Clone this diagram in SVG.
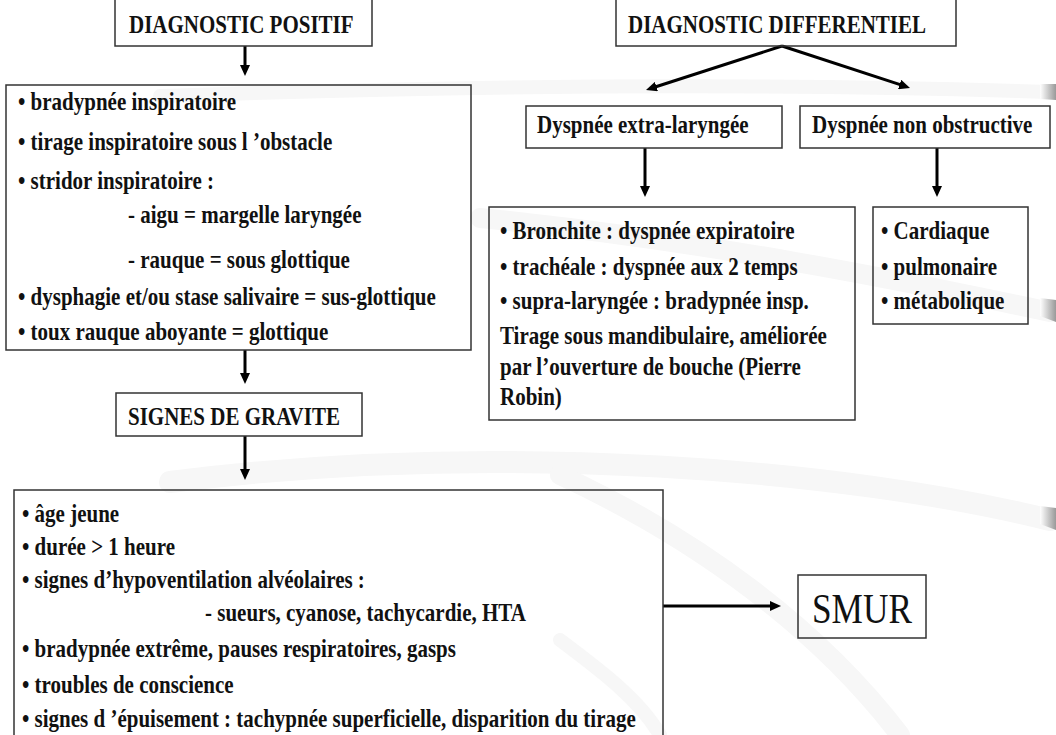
<svg xmlns="http://www.w3.org/2000/svg" width="1056" height="735" viewBox="0 0 1056 735">
<style>
.bg{fill:#ffffff}
.sw{fill:none;stroke:#f7f7f7;stroke-linecap:round}
.box{fill:none;stroke:#333;stroke-width:1.5}
.t{font-family:"Liberation Serif","Times New Roman",serif;font-weight:bold;font-size:25px;fill:#111}
.big{font-family:"Liberation Serif","Times New Roman",serif;font-size:43px;fill:#111}
.c{fill:none;stroke:#000;stroke-width:3}
</style>
<defs>
<marker id="ah" markerUnits="userSpaceOnUse" viewBox="0 0 11 10" refX="3" refY="5" markerWidth="11" markerHeight="10" orient="auto">
<path d="M0,0 L11,5 L0,10 Z" fill="#000"/>
</marker>
<linearGradient id="tip" x1="0" y1="0" x2="1" y2="0">
<stop offset="0" stop-color="#ffffff"/>
<stop offset="1" stop-color="#999999"/>
</linearGradient>
</defs>
<rect class="bg" x="0" y="0" width="1056" height="735"/>
<g id="background">
<path class="sw" stroke-width="14" d="M160 96 C500 84 800 84 1050 92"/>
<path class="sw" stroke-width="20" d="M480 218 C700 240 900 280 1050 312"/>
<path class="sw" stroke-width="22" d="M170 482 C500 440 850 470 1050 520"/>
<path class="sw" stroke-width="20" d="M560 475 C700 540 820 630 900 735"/>
<path class="sw" stroke-width="14" d="M560 640 C600 670 640 700 660 735"/>
<path fill="url(#tip)" d="M1040 84 L1056 84 L1056 100 L1040 99 Z"/>
<path fill="url(#tip)" d="M1040 298 L1056 300 L1056 322 L1040 316 Z"/>
<path fill="url(#tip)" d="M1040 506 L1056 508 L1056 530 L1040 524 Z"/>
</g>
<g id="connectors">
<path class="c" marker-end="url(#ah)" d="M245 46 L245 68"/>
<path class="c" marker-end="url(#ah)" d="M782 46 L653.6 87.5"/>
<path class="c" marker-end="url(#ah)" d="M782 46 L902.4 85.4"/>
<path class="c" marker-end="url(#ah)" d="M645 148 L645 189"/>
<path class="c" marker-end="url(#ah)" d="M937 148 L937 189"/>
<path class="c" marker-end="url(#ah)" d="M245 350 L245 376"/>
<path class="c" marker-end="url(#ah)" d="M245 436 L245 472"/>
<path class="c" marker-end="url(#ah)" d="M663 606 L773 606"/>
</g>
<g id="diag-positif">
<rect class="box" x="115" y="-5" width="257" height="51"/>
<text class="t" transform="translate(129 33) scale(.84 1)">DIAGNOSTIC POSITIF</text>
</g>
<g id="diag-differentiel">
<rect class="box" x="616" y="-5" width="340" height="51"/>
<text class="t" transform="translate(628 33) scale(.84 1)">DIAGNOSTIC DIFFERENTIEL</text>
</g>
<g id="signes-positifs">
<rect class="box" x="6" y="85" width="465" height="265"/>
<text class="t" transform="translate(18 110) scale(.84 1)">• bradypnée inspiratoire</text>
<text class="t" transform="translate(18 150) scale(.84 1)">• tirage inspiratoire sous l ’obstacle</text>
<text class="t" transform="translate(18 189) scale(.84 1)">• stridor inspiratoire :</text>
<text class="t" transform="translate(128 223) scale(.84 1)">- aigu = margelle laryngée</text>
<text class="t" transform="translate(128 268) scale(.84 1)">- rauque = sous glottique</text>
<text class="t" transform="translate(18 305) scale(.84 1)">• dysphagie et/ou stase salivaire = sus-glottique</text>
<text class="t" transform="translate(18 340) scale(.84 1)">• toux rauque aboyante = glottique</text>
</g>
<g id="dyspnee-extra">
<rect class="box" x="526" y="106" width="256" height="42"/>
<text class="t" transform="translate(537 133) scale(.84 1)">Dyspnée extra-laryngée</text>
</g>
<g id="dyspnee-non-obstructive">
<rect class="box" x="800" y="106" width="250" height="42"/>
<text class="t" transform="translate(812 133) scale(.84 1)">Dyspnée non obstructive</text>
</g>
<g id="extra-details">
<rect class="box" x="489" y="207" width="366" height="213"/>
<text class="t" transform="translate(500 239) scale(.84 1)">• Bronchite : dyspnée expiratoire</text>
<text class="t" transform="translate(500 275) scale(.84 1)">• trachéale : dyspnée aux 2 temps</text>
<text class="t" transform="translate(500 309) scale(.84 1)">• supra-laryngée : bradypnée insp.</text>
<text class="t" transform="translate(500 344) scale(.84 1)">Tirage sous mandibulaire, améliorée</text>
<text class="t" transform="translate(500 375) scale(.84 1)">par l’ouverture de bouche (Pierre</text>
<text class="t" transform="translate(500 405) scale(.84 1)">Robin)</text>
</g>
<g id="non-obstructive-details">
<rect class="box" x="873" y="207" width="155" height="117"/>
<text class="t" transform="translate(881 239) scale(.84 1)">• Cardiaque</text>
<text class="t" transform="translate(881 275) scale(.84 1)">• pulmonaire</text>
<text class="t" transform="translate(881 309) scale(.84 1)">• métabolique</text>
</g>
<g id="signes-gravite">
<rect class="box" x="116" y="393" width="246" height="43"/>
<text class="t" transform="translate(128 425) scale(.84 1)">SIGNES DE GRAVITE</text>
</g>
<g id="gravite-details">
<rect class="box" x="14" y="490" width="649" height="260"/>
<text class="t" transform="translate(22 522) scale(.84 1)">• âge jeune</text>
<text class="t" transform="translate(22 555) scale(.84 1)">• durée &gt; 1 heure</text>
<text class="t" transform="translate(22 588) scale(.84 1)">• signes d’hypoventilation alvéolaires :</text>
<text class="t" transform="translate(205 621) scale(.84 1)">- sueurs, cyanose, tachycardie, HTA</text>
<text class="t" transform="translate(22 657) scale(.84 1)">• bradypnée extrême, pauses respiratoires, gasps</text>
<text class="t" transform="translate(22 693) scale(.84 1)">• troubles de conscience</text>
<text class="t" transform="translate(22 727) scale(.84 1)">• signes d ’épuisement : tachypnée superficielle, disparition du tirage</text>
</g>
<g id="smur">
<rect class="box" x="798" y="575" width="128" height="63"/>
<text class="big" transform="translate(812 623) scale(.82 1)">SMUR</text>
</g>
</svg>
